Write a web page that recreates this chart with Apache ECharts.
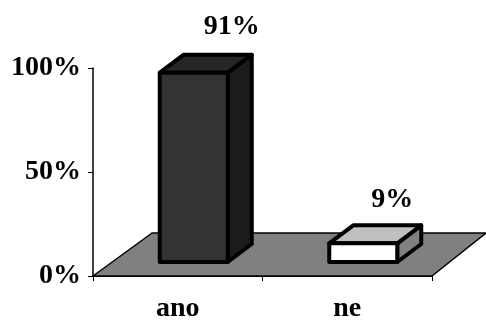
<!DOCTYPE html>
<html>
<head>
<meta charset="UTF-8">
<title>ano ne</title>
<script src="https://cdn.jsdelivr.net/npm/echarts@6/dist/echarts.min.js"></script>
<style>
  html, body { margin: 0; padding: 0; background: #fff; }
  #main { width: 486px; height: 320px; }
</style>
</head>
<body>
<div id="main"></div>
<script>
var categories = ['ano', 'ne'];
var values = [91, 9];
var yTicks = [0, 50, 100];
var frontColors = ['#333333', '#ffffff'];
var topColors = ['#262626', '#c0c0c0'];
var sideColors = ['#1c1c1c', '#808080'];

var FONT = '"Liberation Serif", "Times New Roman", serif';
// fake 3D: how far the box goes back, and where it stands on the floor
var depthX = 24, depthY = 18;
var floorX = 16, floorY = 14;
var barW = 68;

var myChart = echarts.init(document.getElementById('main'));

function poly(points, fill, lw) {
    return {
        type: 'polygon',
        shape: { points: points },
        style: { fill: fill, stroke: '#000', lineWidth: lw, lineJoin: 'round' }
    };
}

function renderFloor(params, api) {
    var a = api.coord([0, 0]);
    var size = api.size([1, 0]);
    var left = a[0] - size[0] / 2;
    var right = left + size[0] * categories.length;
    var y = a[1];
    return poly([
        [left, y],
        [left + 59, y - 43],
        [right + 54, y - 43],
        [right, y]
    ], '#808080', 1.5);
}

function renderBar(params, api) {
    var i = params.dataIndex;
    var base = api.coord([i, 0]);
    var tip = api.coord([i, api.value(1)]);
    var x0 = base[0] + floorX - barW / 2;
    var x1 = x0 + barW;
    var y0 = base[1] - floorY;
    var y1 = tip[1] - floorY;
    // the label sits a bit differently over each bar in the original
    var labelX = (x0 + x1) / 2 + (i === 0 ? 38 : 29);
    var labelY = y1 - depthY - (i === 0 ? 28 : 26);
    return {
        type: 'group',
        children: [
            poly([[x1, y0], [x1 + depthX, y0 - depthY], [x1 + depthX, y1 - depthY], [x1, y1]], sideColors[i], 4),
            poly([[x0, y1], [x0 + depthX, y1 - depthY], [x1 + depthX, y1 - depthY], [x1, y1]], topColors[i], 4),
            poly([[x0, y0], [x1, y0], [x1, y1], [x0, y1]], frontColors[i], 4),
            {
                type: 'text',
                style: {
                    x: labelX,
                    y: labelY,
                    text: api.value(1) + '%',
                    fill: '#000',
                    font: 'bold 28px ' + FONT,
                    align: 'center',
                    verticalAlign: 'middle'
                }
            }
        ]
    };
}

myChart.setOption({
    animation: false,
    backgroundColor: '#fff',
    // labels reach the canvas edge, don't let the grid shrink for them
    grid: { left: 93, right: 54, top: 68, bottom: 44, outerBoundsMode: 'none' },
    xAxis: {
        type: 'category',
        data: categories,
        axisLine: { show: true, lineStyle: { color: '#000', width: 2 } },
        axisTick: { show: true, length: 5, lineStyle: { color: '#000', width: 1 } },
        axisLabel: { color: '#000', fontFamily: FONT, fontWeight: 'bold', fontSize: 28, margin: 19 }
    },
    yAxis: {
        type: 'value',
        min: yTicks[0],
        max: yTicks[2],
        interval: yTicks[1],
        splitLine: { show: false },
        axisLine: { show: true, lineStyle: { color: '#000', width: 1.5 } },
        axisTick: { show: true, length: 5, lineStyle: { color: '#000', width: 1 } },
        axisLabel: { color: '#000', fontFamily: FONT, fontWeight: 'bold', fontSize: 28, margin: 12, formatter: '{value}%' }
    },
    series: [
        {
            type: 'custom',
            clip: false,
            z: 1,
            renderItem: renderFloor,
            data: [[0, 0]],
            encode: { x: 0, y: 1 }
        },
        {
            type: 'custom',
            clip: false,
            z: 2,
            renderItem: renderBar,
            data: values.map(function (v, i) { return [i, v]; }),
            encode: { x: 0, y: 1 }
        }
    ]
});
</script>
</body>
</html>
